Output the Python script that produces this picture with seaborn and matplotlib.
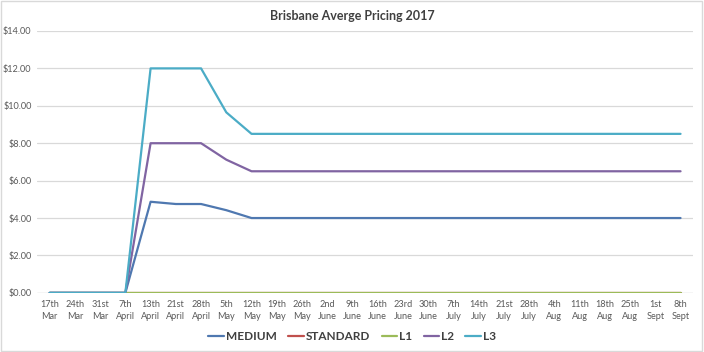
import pandas as pd
import numpy as np
import matplotlib.pyplot as plt
import seaborn as sns

# weekly dates (x axis)
dates = ['17th\nMar', '24th\nMar', '31st\nMar', '7th\nApril', '13th\nApril', '21st\nApril',
         '28th\nApril', '5th\nMay', '12th\nMay', '19th\nMay', '26th\nMay', '2nd\nJune',
         '9th\nJune', '16th\nJune', '23rd\nJune', '30th\nJune', '7th\nJuly', '14th\nJuly',
         '21st\nJuly', '28th\nJuly', '4th\nAug', '11th\nAug', '18th\nAug', '25th\nAug',
         '1st\nSept', '8th\nSept']

n_flat = 17  # weeks after 12th May at the same price
medium = [0, 0, 0, 0, 4.87, 4.75, 4.75, 4.42, 4.0] + [4.0] * n_flat
standard = [0] * 26
l1 = [0] * 26
l2 = [0, 0, 0, 0, 8.0, 8.0, 8.0, 7.12, 6.5] + [6.5] * n_flat
l3 = [0, 0, 0, 0, 12.0, 12.0, 12.0, 9.65, 8.5] + [8.5] * n_flat

series = ['MEDIUM', 'STANDARD', 'L1', 'L2', 'L3']
colors = ['#4f78b0', '#c0504d', '#9bbb59', '#8064a2', '#4bacc6']

df = pd.DataFrame({'pos': np.arange(len(dates)), 'MEDIUM': medium, 'STANDARD': standard,
                   'L1': l1, 'L2': l2, 'L3': l3})
long_df = df.melt(id_vars='pos', value_vars=series, var_name='series', value_name='price')

sns.set_style('white')
plt.rcParams['font.family'] = ['Lato', 'DejaVu Sans']

fig = plt.figure(figsize=(7.04, 3.52), dpi=100)
ax = fig.add_axes([0.0526, 0.168, 0.932, 0.744])

sns.lineplot(data=long_df, x='pos', y='price', hue='series', hue_order=series,
             palette=colors, linewidth=1.6, sort=False, ax=ax, legend=False)

ax.set_xlim(-0.5, len(dates) - 0.5)
ax.set_ylim(0, 14)
ax.set_yticks(np.arange(0, 15, 2))
ax.set_yticklabels(['${:.2f}'.format(v) for v in np.arange(0, 15, 2)])
ax.set_xticks(np.arange(len(dates)))
ax.set_xticklabels(dates, linespacing=1.45)
ax.tick_params(axis='both', length=0, labelsize=6.6, colors='#595959')
ax.tick_params(axis='x', pad=5)
ax.tick_params(axis='y', pad=4)
ax.yaxis.grid(True, color='#d9d9d9', linewidth=0.9)
ax.set_axisbelow(True)
for s in ax.spines.values():
    s.set_visible(False)
ax.axhline(0, color='#d9d9d9', linewidth=0.9, zorder=0)
ax.set_xlabel('')
ax.set_ylabel('')

fig.text(0.5, 0.955, 'Brisbane Averge Pricing 2017', ha='center', va='center',
         fontsize=9, fontweight='bold', color='#404040')

handles = [plt.Line2D([], [], color=c, linewidth=1.6) for c in colors]
fig.legend(handles, series, loc='center', bbox_to_anchor=(0.5, 0.043), ncol=5, frameon=False,
           handlelength=1.3, handletextpad=0.15, columnspacing=1.0,
           prop={'size': 8.5, 'weight': 'bold'}, labelcolor='#404040')

# chart border
fig.patches.append(plt.Rectangle((0.002, 0.003), 0.995, 0.993, transform=fig.transFigure,
                                 fill=False, edgecolor='#d9d9d9', linewidth=1))

fig.savefig('out.png', dpi=100)
